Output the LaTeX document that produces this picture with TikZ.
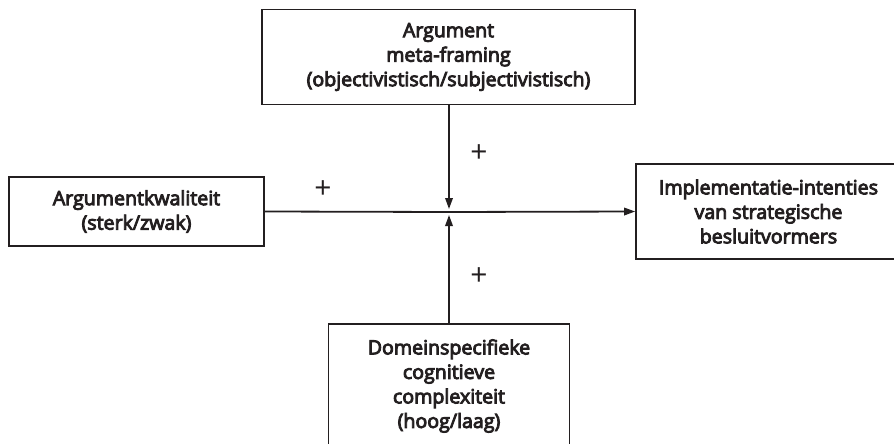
\documentclass[tikz,border=0pt]{standalone}
\usepackage{fontspec}
\setmainfont{Open Sans}
\newfontfamily\labelfont{Open Sans}[FakeBold=4.5]
\usetikzlibrary{arrows.meta}
\definecolor{ink}{HTML}{231F20}
\begin{document}
\begin{tikzpicture}[x=1pt,y=-1pt,
  box/.style={draw=ink, line width=1.7pt, inner sep=0pt, align=center,
    font=\labelfont\fontsize{19.6}{24.5}\selectfont, text=ink},
  link/.style={draw=ink, line width=1.8pt},
  tip/.style={-{Stealth[length=11pt,width=7.5pt,inset=0pt]}},
  sign/.style={font=\fontsize{30}{30}\selectfont, text=ink}]
\useasboundingbox (0,0) rectangle (894,444);
\clip (0,0) rectangle (894,444);
\node[box, minimum width=373pt, minimum height=95pt] (meta) at (448.5,57)
  {Argument\\meta-framing\\(objectivistisch/subjectivistisch)};
\node[box, minimum width=255pt, minimum height=69pt] (qual) at (136.5,211.5)
  {Argumentkwaliteit\\(sterk/zwak)};
\node[box, minimum width=265pt, minimum height=95pt] (impl) at (768.5,211.5)
  {Implementatie-intenties\\van strategische\\besluitvormers};
\node[box, minimum width=241pt, minimum height=150pt, anchor=north] (dom) at (449,323) {};
\node[box, draw=none, anchor=center] (domtext) at (449,386)
  {Domeinspecifieke\\cognitieve\\complexiteit\\(hoog/laag)};
\coordinate (hit) at (449,212);
\coordinate (hittop) at (449,209);
\coordinate (hitbot) at (449,215);
\draw[link] (qual.east) -- (hit);
\draw[link, tip] (hit) -- (impl.west);
\draw[link, tip] (meta.south -| hit) -- (hittop);
\draw[link, tip] (dom.north) -- (hitbot);
\node[sign] (p1) at (323,190) {+};
\node[sign] (p2) at (479,154) {+};
\node[sign] (p3) at (479,277) {+};
\end{tikzpicture}
\end{document}
